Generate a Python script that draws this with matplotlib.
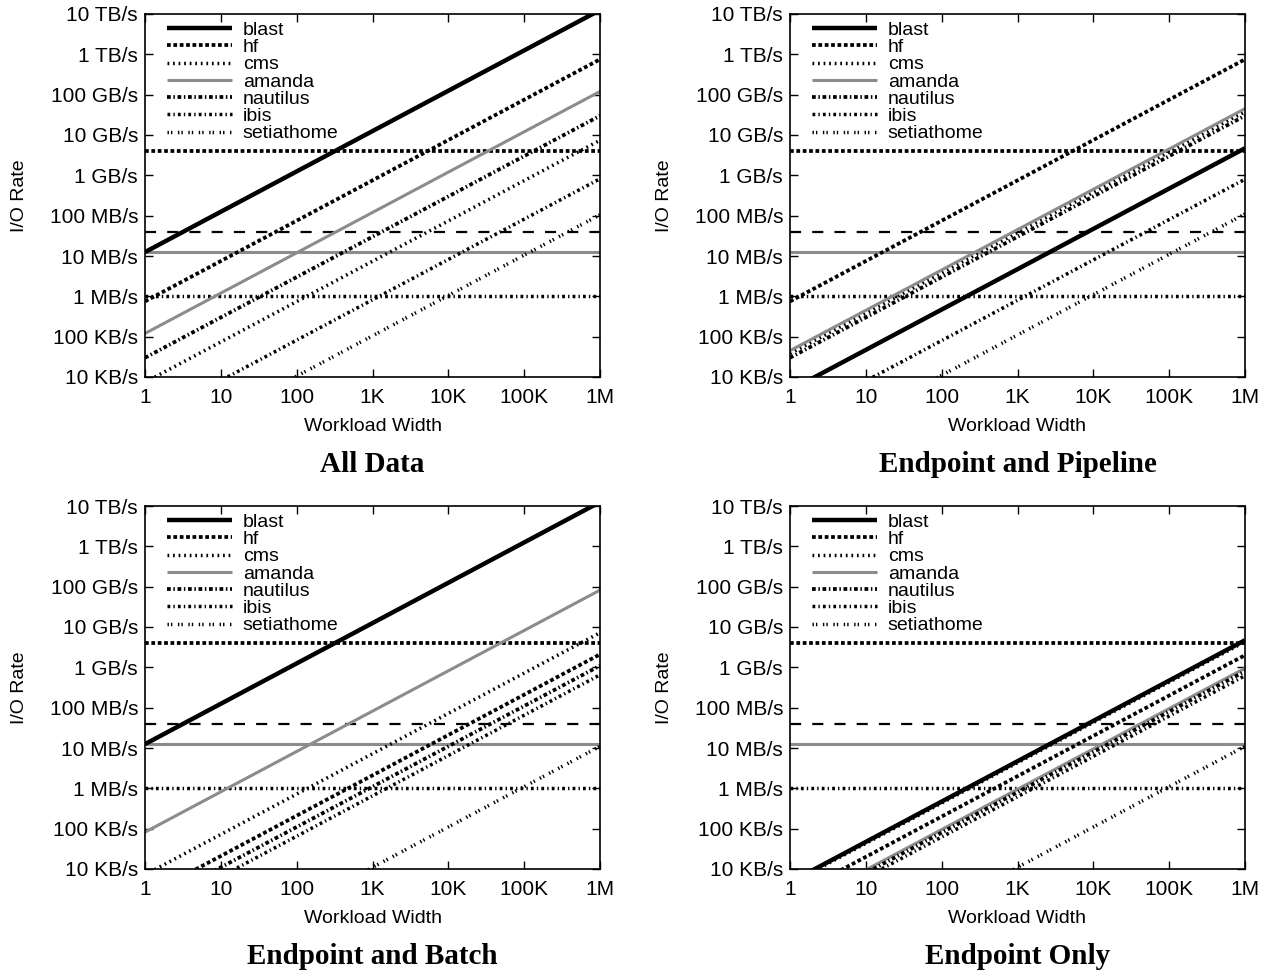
import numpy as np
import matplotlib
matplotlib.use("Agg")
import matplotlib.pyplot as plt
from matplotlib.ticker import FixedLocator, NullLocator

plt.rcParams['font.family'] = ['Liberation Sans', 'DejaVu Sans']

# per-unit-width I/O rate (bytes/s) of each application, one list per panel
apps = ["blast", "hf", "cms", "amanda", "nautilus", "ibis", "setiathome"]
rate_all_data = [12.5e6, 0.75e6, 7.4e3, 120e3, 30e3, 820, 105]
rate_pipeline = [4.7e3, 0.75e6, 38e3, 45e3, 30e3, 800, 110]
rate_batch = [12.5e6, 2.1e3, 7.2e3, 82e3, 1.1e3, 650, 11]
rate_endpoint = [4.7e3, 2.0e3, 4.3e3, 0.95e3, 0.8e3, 0.62e3, 11]

panel_titles = ["All Data", "Endpoint and Pipeline", "Endpoint and Batch", "Endpoint Only"]
panel_rates = [rate_all_data, rate_pipeline, rate_batch, rate_endpoint]

# horizontal reference bandwidths (bytes/s)
ref_levels = [4e9, 40e6, 12.5e6, 1e6]
ref_styles = ["hf", "dash", "amanda", "ibis"]

width_range = [1, 1e6]

x_ticks = [1, 10, 100, 1e3, 1e4, 1e5, 1e6]
x_labels = ["1", "10", "100", "1K", "10K", "100K", "1M"]
y_ticks = [1e4, 1e5, 1e6, 1e7, 1e8, 1e9, 1e10, 1e11, 1e12, 1e13]
y_labels = ["10 KB/s", "100 KB/s", "1 MB/s", "10 MB/s", "100 MB/s",
            "1 GB/s", "10 GB/s", "100 GB/s", "1 TB/s", "10 TB/s"]

styles = {
    "blast": dict(color="black", lw=3.2, ls="-"),
    "hf": dict(color="black", lw=2.7, ls=(0, (1.0, 0.7))),
    "cms": dict(color="black", lw=2.5, ls=(0, (0.5, 1.1))),
    "amanda": dict(color="0.55", lw=2.2, ls="-"),
    "nautilus": dict(color="black", lw=2.7, ls=(0, (1.0, 0.7, 0.4, 0.7))),
    "ibis": dict(color="black", lw=2.5, ls=(0, (0.8, 0.9, 0.4, 0.9))),
    "setiathome": dict(color="black", lw=2.5, ls=(0, (0.4, 0.6, 0.4, 1.6))),
    "dash": dict(color="black", lw=1.6, ls=(0, (5, 5))),
}

W, H = 1271, 973
fig = plt.figure(figsize=(W / 100, H / 100), dpi=100)

lefts = [145, 790, 145, 790]
tops = [14, 14, 506, 506]
aw, ah = 455, 363

for k in range(4):
    ax = fig.add_axes([lefts[k] / W, 1 - (tops[k] + ah) / H, aw / W, ah / H])
    ax.set_xscale("log")
    ax.set_yscale("log")
    ax.set_xlim(1, 1e6)
    ax.set_ylim(1e4, 1e13)

    for lvl, st in zip(ref_levels, ref_styles):
        ax.axhline(lvl, solid_capstyle="butt", dash_capstyle="butt", **styles[st])

    xs = np.array(width_range)
    for name, r in zip(apps, panel_rates[k]):
        ax.plot(xs, r * xs, label=name, solid_capstyle="butt",
                dash_capstyle="butt", **styles[name])

    ax.xaxis.set_major_locator(FixedLocator(x_ticks))
    ax.set_xticklabels(x_labels)
    ax.yaxis.set_major_locator(FixedLocator(y_ticks))
    ax.set_yticklabels(y_labels)
    ax.xaxis.set_minor_locator(NullLocator())
    ax.yaxis.set_minor_locator(NullLocator())
    ax.tick_params(direction="in", length=6, width=1, top=True, right=True,
                   labelsize=15)
    ax.tick_params(axis="y", pad=5)
    ax.tick_params(axis="x", pad=8)
    for sp in ax.spines.values():
        sp.set_linewidth(1.2)

    ax.set_xlabel("Workload Width", fontsize=14, labelpad=8)
    ax.set_ylabel("I/O Rate", fontsize=14)
    ax.yaxis.set_label_coords(-0.258, 0.5)

    ax.legend(loc="upper left", bbox_to_anchor=(0.045, 0.985), frameon=False,
              fontsize=14, handlelength=3.3, handletextpad=0.57,
              labelspacing=-0.02, borderpad=0.1, borderaxespad=0.0)

    cx = (lefts[k] + aw / 2) / W
    ty = 1 - (tops[k] + ah + 88) / H
    fig.text(cx, ty, panel_titles[k], ha="center", va="center",
             fontsize=21, fontweight="bold", family="Liberation Serif")

fig.savefig("out.png", dpi=100)
